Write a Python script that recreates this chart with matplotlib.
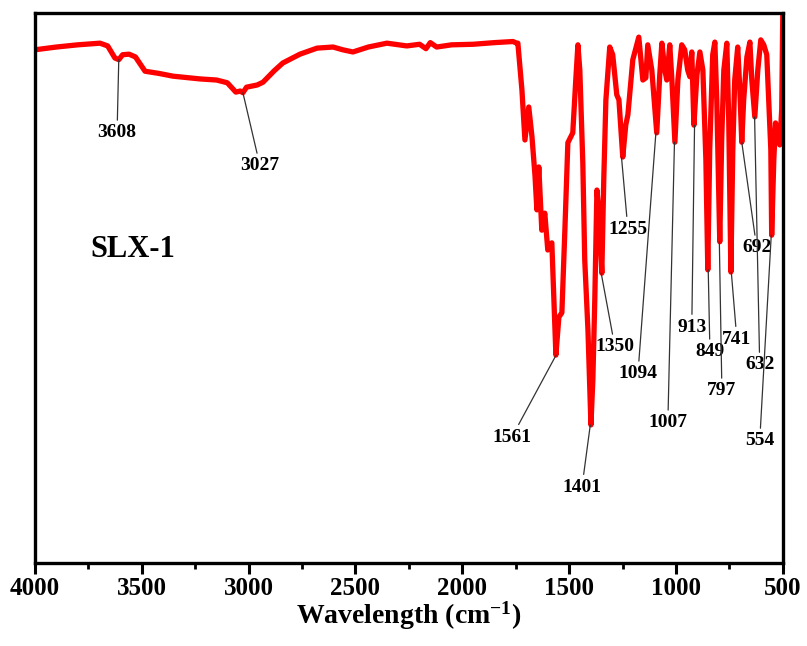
import matplotlib
matplotlib.use("Agg")
import matplotlib.pyplot as plt
from matplotlib.ticker import MultipleLocator

plt.rcParams['font.family'] = 'Liberation Serif'
plt.rcParams['font.weight'] = 'bold'
plt.rcParams['mathtext.fontset'] = 'custom'
plt.rcParams['mathtext.rm'] = 'Liberation Serif:bold'
plt.rcParams['mathtext.bf'] = 'Liberation Serif:bold'
plt.rcParams['mathtext.default'] = 'bf'

# spectrum (wavenumber cm-1, transmittance %)
wavenumber = [
    4000, 3900, 3800, 3696, 3660, 3626, 3608, 3590, 3560, 3530, 3485, 3420,
    3354, 3228, 3150, 3100, 3060, 3040, 3027, 3010, 2960, 2933, 2880, 2840,
    2760, 2680, 2605, 2560, 2512, 2440, 2353, 2260, 2200, 2170, 2150, 2120,
    2050, 1950, 1850, 1763, 1745,
    1740, 1721, 1707, 1689, 1674, 1660, 1651, 1642, 1628, 1614, 1600, 1581,
    1562, 1548, 1534, 1520, 1506, 1483, 1469, 1459, 1450, 1436, 1427, 1412,
    1398, 1389, 1380, 1370, 1361, 1347, 1338, 1328, 1310, 1296, 1277, 1267,
    1249, 1235, 1225, 1202, 1174, 1155, 1141, 1132, 1113, 1090, 1076, 1066,
    1052, 1043, 1029, 1019, 1005, 991, 973, 959, 945, 935, 926, 916, 902,
    888, 874, 860, 851, 842, 828, 818, 809, 795, 786, 776, 762, 753, 743,
    734, 725, 711, 701, 692, 683, 668, 654, 645, 631, 617, 603, 589, 575,
    566, 556, 552, 542, 534, 523, 514, 505, 500,
]
transmittance = [
    93.3, 93.8, 94.2, 94.5, 94.0, 91.8, 91.5, 92.4, 92.5, 92.0, 89.4, 89.0,
    88.5, 88.0, 87.8, 87.3, 85.6, 85.8, 85.5, 86.5, 86.9, 87.4, 89.5, 90.9,
    92.5, 93.6, 93.8, 93.3, 92.9, 93.8, 94.5, 94.0, 94.3, 93.5, 94.6, 93.8,
    94.2, 94.3, 94.6, 94.8, 94.5,
    94.5, 86.0, 76.9, 82.9, 77.5, 70.5, 64.2, 72.0, 60.5, 63.6, 56.9, 58.2,
    37.8, 44.7, 45.5, 60.5, 76.4, 78.2, 87.8, 94.2, 89.6, 72.7, 55.1, 42.4,
    25.1, 33.3, 47.8, 67.8, 64.2, 52.7, 69.6, 84.2, 93.8, 92.4, 85.1, 84.2,
    73.8, 79.6, 81.5, 91.5, 95.6, 87.8, 88.2, 94.2, 89.6, 78.2, 88.7, 94.5,
    89.6, 87.8, 94.2, 87.8, 76.5, 87.8, 94.2, 93.3, 89.6, 88.4, 92.9, 79.6, 88.7,
    92.9, 89.6, 73.3, 53.3, 75.1, 92.4, 94.7, 84.2, 58.4, 76.9, 89.6, 94.5, 80.5, 52.9,
    75.1, 87.8, 93.8, 86.0, 76.5, 84.2, 92.0, 94.7, 87.8, 81.1, 89.6, 95.1, 94.2, 92.4,
    84.2, 75.1, 59.6, 73.3, 80.0, 77.5, 76.0, 82.5, 100.0,
]

# labelled peaks and where their labels sit
peak_pos = [3608, 3027, 1561, 1401, 1350, 1255, 1094, 1007, 913, 849, 797, 741, 692, 632, 554]
peak_t = [91.5, 85.5, 37.8, 25.1, 52.7, 73.8, 78.2, 76.5, 79.6, 53.3, 58.4, 52.9, 76.5, 81.1, 59.6]
label_pos = [3616, 2947, 1768, 1440, 1286, 1225, 1178, 1038, 926, 841, 785, 715, 622, 608, 608]
label_t = [78.2, 72.2, 22.9, 13.8, 39.3, 60.7, 34.4, 25.5, 42.9, 38.4, 31.3, 40.7, 57.3, 36.0, 22.2]

fig = plt.figure(figsize=(8.07, 6.46), dpi=100)
ax = fig.add_axes([0.0434, 0.1285, 0.9266, 0.8515])

ax.plot(wavenumber, transmittance, color='red', lw=3.8, solid_joinstyle='round')

for p, t, lp, lt in zip(peak_pos, peak_t, label_pos, label_t):
    ax.annotate(str(p), xy=(p, t), xytext=(lp, lt), ha='center', va='center',
                fontsize=14, fontweight='bold',
                arrowprops=dict(arrowstyle='-', color='#333333', lw=0.9,
                                shrinkA=1, shrinkB=0))

ax.text(3540, 57, 'SLX-1', fontsize=22, fontweight='bold', ha='center', va='center')

ax.set_xlim(4000, 500)
ax.set_ylim(0, 100)
ax.set_yticks([])
ax.xaxis.set_major_locator(MultipleLocator(500))
ax.xaxis.set_minor_locator(MultipleLocator(250))
ax.tick_params(axis='x', which='major', direction='out', length=8, width=2.2,
               labelsize=18, pad=2)
ax.tick_params(axis='x', which='minor', direction='out', length=4.5, width=2.0)
for lab in ax.get_xticklabels():
    lab.set_fontweight('bold')
for s in ax.spines.values():
    s.set_linewidth(2.4)

ax.set_xlabel(r'Wavelength (cm$^{-1}$)', fontsize=20, fontweight='bold', labelpad=0)

fig.savefig('out.png', dpi=100)
